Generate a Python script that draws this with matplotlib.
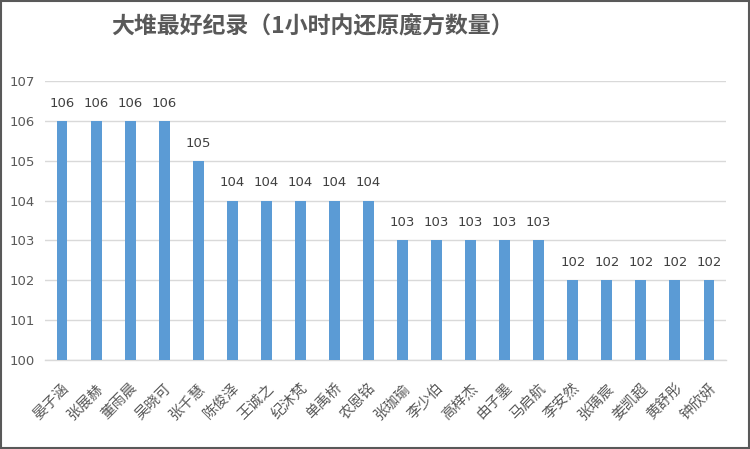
import matplotlib
matplotlib.use("Agg")
import matplotlib.pyplot as plt
from matplotlib.patches import Rectangle

plt.rcParams['font.family'] = ['Noto Sans CJK SC', 'DejaVu Sans']

names = ["晏子涵", "张展赫", "董雨晨", "吴晓可", "张千慧", "陈俊泽", "王诚之", "纪沐梵", "单禹桥", "农恩铭",
         "张珈瑜", "李少伯", "高梓杰", "由子墨", "马启航", "李安然", "张瑀宸", "姜凯超", "黄舒彤", "钟欣妍"]
values = [106, 106, 106, 106, 105, 104, 104, 104, 104, 104,
          103, 103, 103, 103, 103, 102, 102, 102, 102, 102]
yticks = [100, 101, 102, 103, 104, 105, 106, 107]
title = "大堆最好纪录（1小时内还原魔方数量）"

fig = plt.figure(figsize=(7.5, 4.49), dpi=100)
ax = fig.add_axes([0.06, 0.198, 0.908, 0.622])

x = list(range(len(names)))
ax.bar(x, [v - yticks[0] for v in values], bottom=yticks[0], width=0.32, color='#5B9BD5', zorder=3)
for xi, v in zip(x, values):
    ax.annotate(str(v), (xi, v), xytext=(0, 8), textcoords='offset points',
                ha='center', va='bottom', fontsize=9.5, color='#404040',
                family=['DejaVu Sans'])

ax.set_xlim(-0.5, len(names) - 0.5)
ax.set_ylim(yticks[0], yticks[-1])
ax.set_yticks(yticks)
ax.set_yticklabels([str(t) for t in yticks], fontsize=9.5, color='#595959', family=['DejaVu Sans'])
ax.set_xticks(x)
ax.set_xticklabels(names, rotation=45, ha='right', rotation_mode='anchor',
                   fontsize=10.5, color='#595959')
ax.tick_params(axis='both', length=0)
ax.tick_params(axis='y', pad=7)
ax.tick_params(axis='x', pad=15)
ax.grid(axis='y', color='#D9D9D9', linewidth=1, zorder=0)
for s in ['top', 'right', 'left']:
    ax.spines[s].set_visible(False)
ax.spines['bottom'].set_color('#D9D9D9')
ax.spines['bottom'].set_linewidth(1)

fig.text(0.417, 0.94, title, ha='center', va='center', fontsize=16.5, color='#595959', weight='bold')

fig.patches.append(Rectangle((0.001, 0.002), 0.997, 0.996, transform=fig.transFigure,
                             fill=False, edgecolor='#595959', linewidth=1.5))

fig.savefig('out.png', dpi=100)
